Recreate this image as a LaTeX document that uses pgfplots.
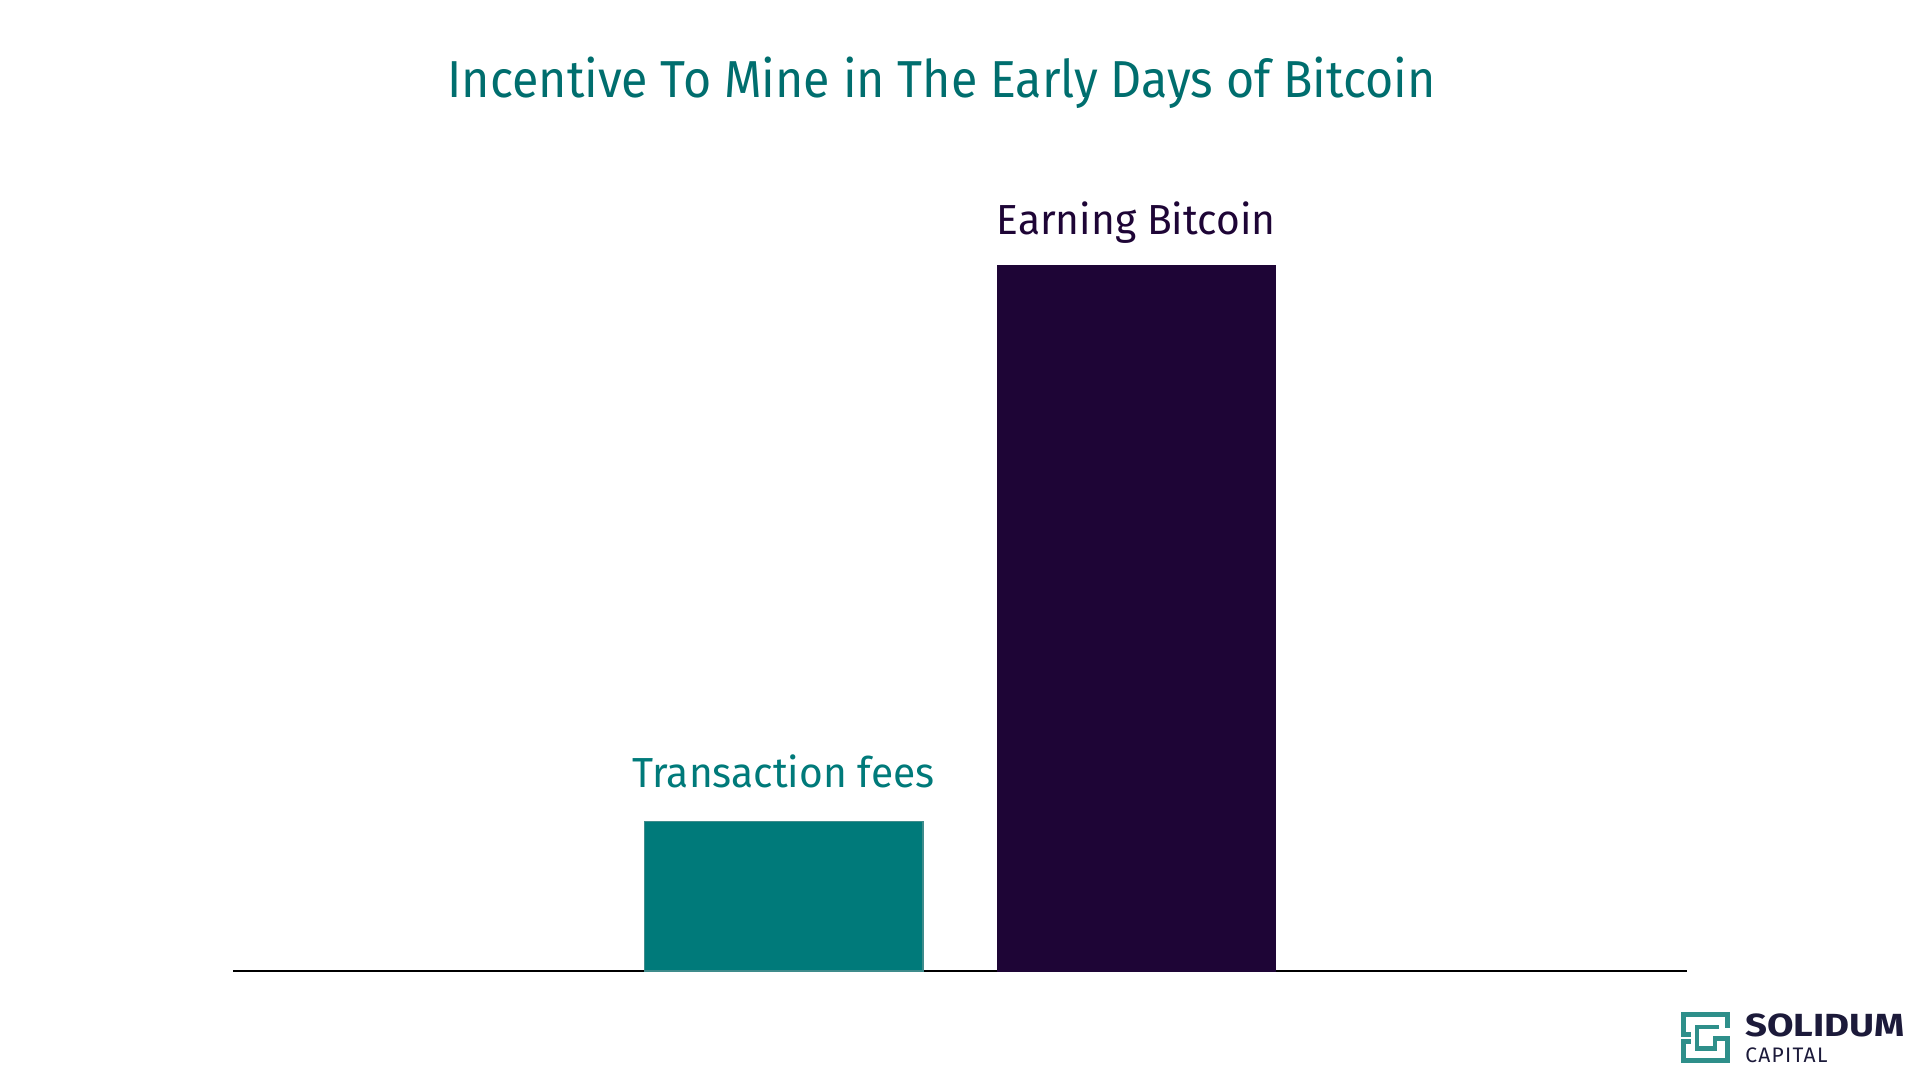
\documentclass[border=0pt]{standalone}
\usepackage{fontspec}
\setmainfont{Fira Sans}[FakeStretch=0.93]
\newfontfamily\labelfont{Fira Sans}[FakeStretch=0.97]
\newfontfamily\logofont{Fira Sans}[FakeStretch=1.2]
\newfontfamily\capfont{Fira Sans}[LetterSpace=6]
\usepackage{pgfplots}
\pgfplotsset{compat=1.18}

\definecolor{tealbar}{HTML}{007A7A}
\definecolor{tealedge}{HTML}{3F8C8C}
\definecolor{titleteal}{HTML}{006E6E}
\definecolor{darkbar}{HTML}{1E0536}
\definecolor{logonavy}{HTML}{1C1A3A}
\definecolor{logoteal}{HTML}{2E8F8A}

\begin{document}
\begin{tikzpicture}
% page: 1920 x 1080 px, 1px = 0.5pt
\path[use as bounding box] (0,0) rectangle (960pt,540pt);

\node[anchor=base, text=titleteal, font=\fontsize{26}{30}\selectfont]
  at (470.75pt,491pt) {Incentive To Mine in The Early Days of Bitcoin};

\begin{axis}[
  at={(116.5pt,54.5pt)}, anchor=south west,
  scale only axis,
  width=727pt, height=353pt,
  xmin=-0.562, xmax=3.563,
  ymin=0, ymax=100,
  axis x line=bottom,
  axis y line=none,
  axis line style={black, line width=1pt, -},
  xtick=\empty, ytick=\empty,
  ybar, bar width=0.79, bar shift=0pt,
  clip=false,
]
\addplot[fill=tealbar, draw=tealedge, line width=0.8pt] coordinates {(1,21.2)};
\addplot[fill=darkbar, draw=darkbar, line width=0.3pt] coordinates {(2,100)};
\node[anchor=base, text=tealbar, font=\labelfont\fontsize{21}{24}\selectfont]
  at (axis cs:1,21.2) [yshift=17pt] {Transaction fees};
\node[anchor=base, text=darkbar, font=\labelfont\fontsize{21}{24}\selectfont]
  at (axis cs:2,100) [yshift=15pt] {Earning Bitcoin};
\end{axis}

% logo icon, drawn in units of a third of a pixel from (1675px,1005px)
\begin{scope}[shift={(837.5pt,37.5pt)}, x=0.1667pt, y=-0.1667pt,
  line width=2.2pt, color=logoteal, line cap=rect, line join=miter]
  \draw (26,88) -- (26,28) -- (157,28) -- (157,62);
  \draw (26,88) -- (42,88);
  \draw (42,110) -- (26,110) -- (26,166) -- (157,166) -- (157,100) -- (119,100);
  \draw (125,66) -- (66,66) -- (66,131) -- (119,131) -- (119,100);
\end{scope}
\node[anchor=base west, text=logonavy, inner sep=0pt,
  font=\logofont\bfseries\fontsize{16}{17}\selectfont]
  at (872.5pt,21.5pt) {SOLIDUM};
\node[anchor=base west, text=logonavy, inner sep=0pt,
  font=\capfont\fontsize{10.5}{12}\selectfont]
  at (872.5pt,8.5pt) {CAPITAL};
\end{tikzpicture}
\end{document}
